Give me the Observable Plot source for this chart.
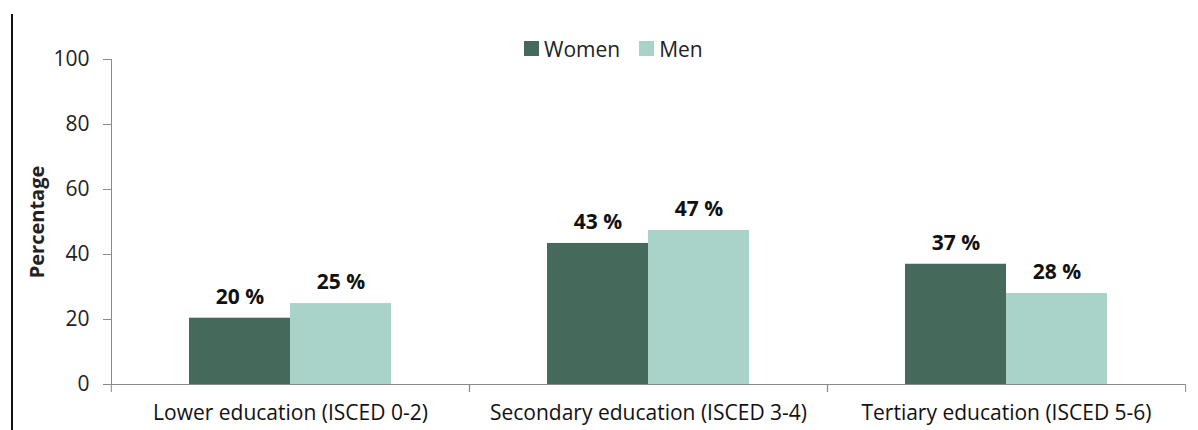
<!DOCTYPE html>
<html>
<head>
<meta charset="utf-8">
<script src="https://cdn.jsdelivr.net/npm/d3@7"></script>
<script src="https://cdn.jsdelivr.net/npm/@observablehq/plot@0.6"></script>
<style>
  html, body { margin: 0; padding: 0; background: #fff; }
  #wrap { position: relative; width: 1198px; height: 430px; overflow: hidden; }
  #border { position: absolute; left: 11px; top: 14px; width: 2px; height: 416px; background: #111; }
  #legend { position: absolute; left: 524px; top: 32px; }
  #legend > div { font-family: 'Open Sans', sans-serif !important; font-size: 21px !important; color: #222; margin: 0 !important; }
  #legend svg { margin-right: 5px !important; }
  #legend span { margin-right: 19px !important; }
  svg [aria-label="y-axis label"] text { font-weight: bold; font-size: 20px; }
</style>
</head>
<body>
<div id="wrap"><div id="border"></div><div id="legend"></div></div>
<script>
const categories = ["Lower education (ISCED 0-2)", "Secondary education (ISCED 3-4)", "Tertiary education (ISCED 5-6)"];
const series = ["Women", "Men"];
const women = [20.4, 43.4, 37.0];
const men = [24.9, 47.4, 28.0];
const yTicks = [0, 20, 40, 60, 80, 100];
const colors = ["#456a5b", "#a9d3c9"];

const data = categories.flatMap((c, i) => [
  {category: c, sex: series[0], value: women[i]},
  {category: c, sex: series[1], value: men[i]}
]);

const W = 1198, H = 430, ML = 110, MR = 13, MT = 59, MB = 46;
const step = (W - ML - MR) / categories.length;
const axisGray = "#8a8a8a";

const chart = Plot.plot({
  width: W, height: H,
  marginLeft: ML, marginRight: MR, marginTop: MT, marginBottom: MB,
  style: {fontFamily: "'Open Sans', sans-serif", fontSize: "21px", color: "#222", background: "transparent"},
  fx: {domain: categories, padding: 0},
  x: {domain: series, paddingInner: 0, paddingOuter: 0.755, axis: null},
  y: {domain: [0, 100]},
  color: {domain: series, range: colors},
  marks: [
    Plot.barY(data, {fx: "category", x: "sex", y: "value", fill: "sex"}),
    Plot.text(data, {fx: "category", x: "sex", y: "value",
      text: d => `${Math.round(d.value)} %`, dy: -21, fontWeight: "bold", fill: "#111"}),
    Plot.ruleY([0], {stroke: axisGray}),
    Plot.axisY({ticks: yTicks, tickSize: 8, tickPadding: 14, stroke: axisGray, strokeOpacity: 1,
      label: "Percentage", labelAnchor: "center", labelArrow: "none", labelOffset: 82}),
    Plot.axisFx({anchor: "bottom", tickSize: 0, tickPadding: 21, label: null, fill: "#111"}),
    Plot.axisFx({anchor: "bottom", tickSize: 8, tickFormat: () => "", label: null, stroke: axisGray, dx: -step / 2}),
    Plot.axisFx({anchor: "bottom", tickSize: 8, tickFormat: () => "", label: null, stroke: axisGray, dx: step / 2})
  ]
});
document.getElementById("wrap").appendChild(chart);
chart.style.position = "absolute";
chart.style.left = "0px";
chart.style.top = "0px";

// y-axis line, from the library's own scales
const ys = chart.scale("y"), fxs = chart.scale("fx");
const x0 = fxs.apply(categories[0]);
d3.select(chart).append("line")
  .attr("x1", x0 + 0.5).attr("x2", x0 + 0.5)
  .attr("y1", ys.apply(yTicks[yTicks.length - 1])).attr("y2", ys.apply(0))
  .attr("stroke", axisGray);

const legend = chart.legend("color", {swatchSize: 15});
document.getElementById("legend").appendChild(legend);
</script>
</body>
</html>
